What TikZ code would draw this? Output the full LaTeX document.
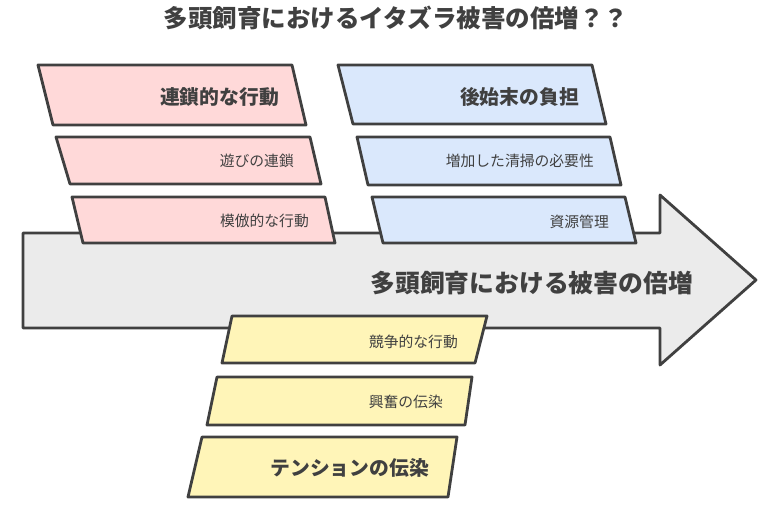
\documentclass[tikz,border=0pt]{standalone}
\usepackage{fontspec}
\setmainfont{Noto Sans CJK JP}
\usepackage{tikz}
\usetikzlibrary{positioning,calc}
\definecolor{inkgray}{HTML}{404040}
\definecolor{arrowgray}{HTML}{EBEBEB}
\definecolor{rosepink}{HTML}{FFD9D9}
\definecolor{skyblue}{HTML}{DAE8FC}
\definecolor{lemon}{HTML}{FFF5B8}

\begin{document}
\begin{tikzpicture}[
  x=1pt, y=-1pt,
  causebox/.style={
    draw=inkgray,
    line width=2.8pt,
    line join=round,
  },
  bigtext/.style={
    anchor=east,
    inner sep=0pt,
    text=inkgray,
    font=\fontsize{19.8}{19.8}\selectfont\bfseries,
  },
  smalltext/.style={
    anchor=east,
    inner sep=0pt,
    text=inkgray,
    font=\fontsize{14.8}{14.8}\selectfont,
  }]
  \useasboundingbox (0,0) rectangle (780,507);
  \node[text=inkgray, font=\fontsize{24.5}{24.5}\selectfont\bfseries] (title) at (396,18) {多頭飼育におけるイタズラ被害の倍増？？};
  % main arrow
  \draw[causebox, fill=arrowgray] (23,233) -- (660,233) -- (660,195) -- (756,280)
    -- (660,365) -- (660,328) -- (23,328) -- cycle;
  \node[bigtext, font=\fontsize{24.8}{24.8}\selectfont\bfseries] (effect) at (693,283) {多頭飼育における被害の倍増};
  % pink branch
  \draw[causebox, fill=rosepink] (38,65) -- (292,65) -- (306,125) -- (53,125) -- cycle;
  \draw[causebox, fill=rosepink] (56,137) -- (310,137) -- (321,184) -- (70,184) -- cycle;
  \draw[causebox, fill=rosepink] (72,197) -- (325,197) -- (335,243) -- (83,243) -- cycle;
  \node[bigtext] (chain) at (279,97) {連鎖的な行動};
  \node[smalltext] (play) at (294,161) {遊びの連鎖};
  \node[smalltext] (mimic) at (309,221) {模倣的な行動};
  % blue branch
  \draw[causebox, fill=skyblue] (338,65) -- (592,65) -- (606,124) -- (353,124) -- cycle;
  \draw[causebox, fill=skyblue] (357,137) -- (610,137) -- (621,185) -- (368,185) -- cycle;
  \draw[causebox, fill=skyblue] (372,197) -- (625,197) -- (636,243) -- (383,243) -- cycle;
  \node[bigtext] (cleanup) at (579,97) {後始末の負担};
  \node[smalltext] (cleaning) at (594,161) {増加した清掃の必要性};
  \node[smalltext] (resource) at (609,222) {資源管理};
  % yellow branch
  \draw[causebox, fill=lemon] (232,316) -- (487,316) -- (475,363) -- (222,363) -- cycle;
  \draw[causebox, fill=lemon] (217,377) -- (472,377) -- (465,425) -- (207,425) -- cycle;
  \draw[causebox, fill=lemon] (202,437) -- (457,437) -- (448,497) -- (188,497) -- cycle;
  \node[smalltext] (compete) at (458,342) {競争的な行動};
  \node[smalltext] (excite) at (443,402) {興奮の伝染};
  \node[bigtext] (tension) at (429,468) {テンションの伝染};
\end{tikzpicture}
\end{document}
